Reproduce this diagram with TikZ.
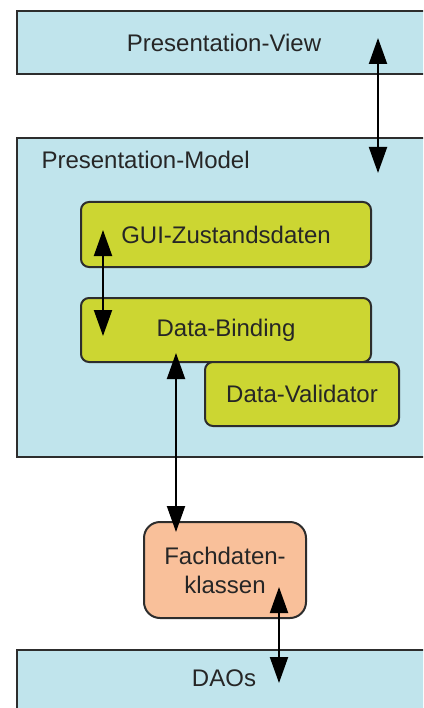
\documentclass[tikz,border=0pt]{standalone}
\usepackage{fontspec}
\setmainfont{Liberation Sans}
\usetikzlibrary{arrows.meta}
\definecolor{lblue}{RGB}{192,228,236}
\definecolor{lyellow}{RGB}{204,214,50}
\definecolor{lorange}{RGB}{249,192,154}
\definecolor{edge}{RGB}{45,45,45}
\tikzset{
  every node/.style={font=\fontsize{24}{29}\selectfont, text=black!85},
  bluebox/.style={draw=edge, line width=2pt, fill=lblue, rectangle, anchor=north west, minimum width=414pt, inner sep=0pt},
  greenbox/.style={draw=edge, line width=2pt, fill=lyellow, rounded corners=8pt, rectangle, anchor=north west, inner sep=0pt},
  orangebox/.style={draw=edge, line width=2pt, fill=lorange, rounded corners=16pt, rectangle, anchor=north west, inner sep=0pt, align=center},
  link/.style={line width=2pt, black, {Triangle[width=18pt,length=26pt]}-{Triangle[width=18pt,length=26pt]}}
}
\begin{document}
\begin{tikzpicture}[x=1pt,y=-1pt]
\useasboundingbox (0,0) rectangle (423,708);
\fill[white] (0,0) rectangle (423,708);
\clip (0,0) rectangle (423,708);
% layers
\node[bluebox, minimum height=63pt] (view) at (16,10) {Presentation-View};
\node[bluebox, minimum height=319pt] (model) at (16,137) {};
\node[anchor=west] (modeltxt) at (38,160) {Presentation-Model};
\node[greenbox, minimum width=290pt, minimum height=65pt] (gui) at (80,201) {GUI-Zustandsdaten};
\node[greenbox, minimum width=290pt, minimum height=64pt] (bind) at (80,297) {Data-Binding};
\node[greenbox, minimum width=194pt, minimum height=64pt] (val) at (204,361) {Data-Validator};
\node[orangebox, minimum width=162pt, minimum height=96pt] (fach) at (143,521) {Fachdaten-\\klassen};
\node[bluebox, minimum height=80pt] (dao) at (16,649) {};
\node (daotxt) at (224,678) {DAOs};
% connector end points
\coordinate (vmA) at (378,38);
\coordinate (vmB) at (378,173);
\coordinate (gbA) at (103,230);
\coordinate (gbB) at (103,336);
\coordinate (bfA) at (176,353);
\coordinate (bfB) at (176,532);
\coordinate (fdA) at (279,587);
\coordinate (fdB) at (279,683);
\draw[link] (vmA) -- (vmB);
\draw[link] (gbA) -- (gbB);
\draw[link] (bfA) -- (bfB);
\draw[link] (fdA) -- (fdB);
\end{tikzpicture}
\end{document}
